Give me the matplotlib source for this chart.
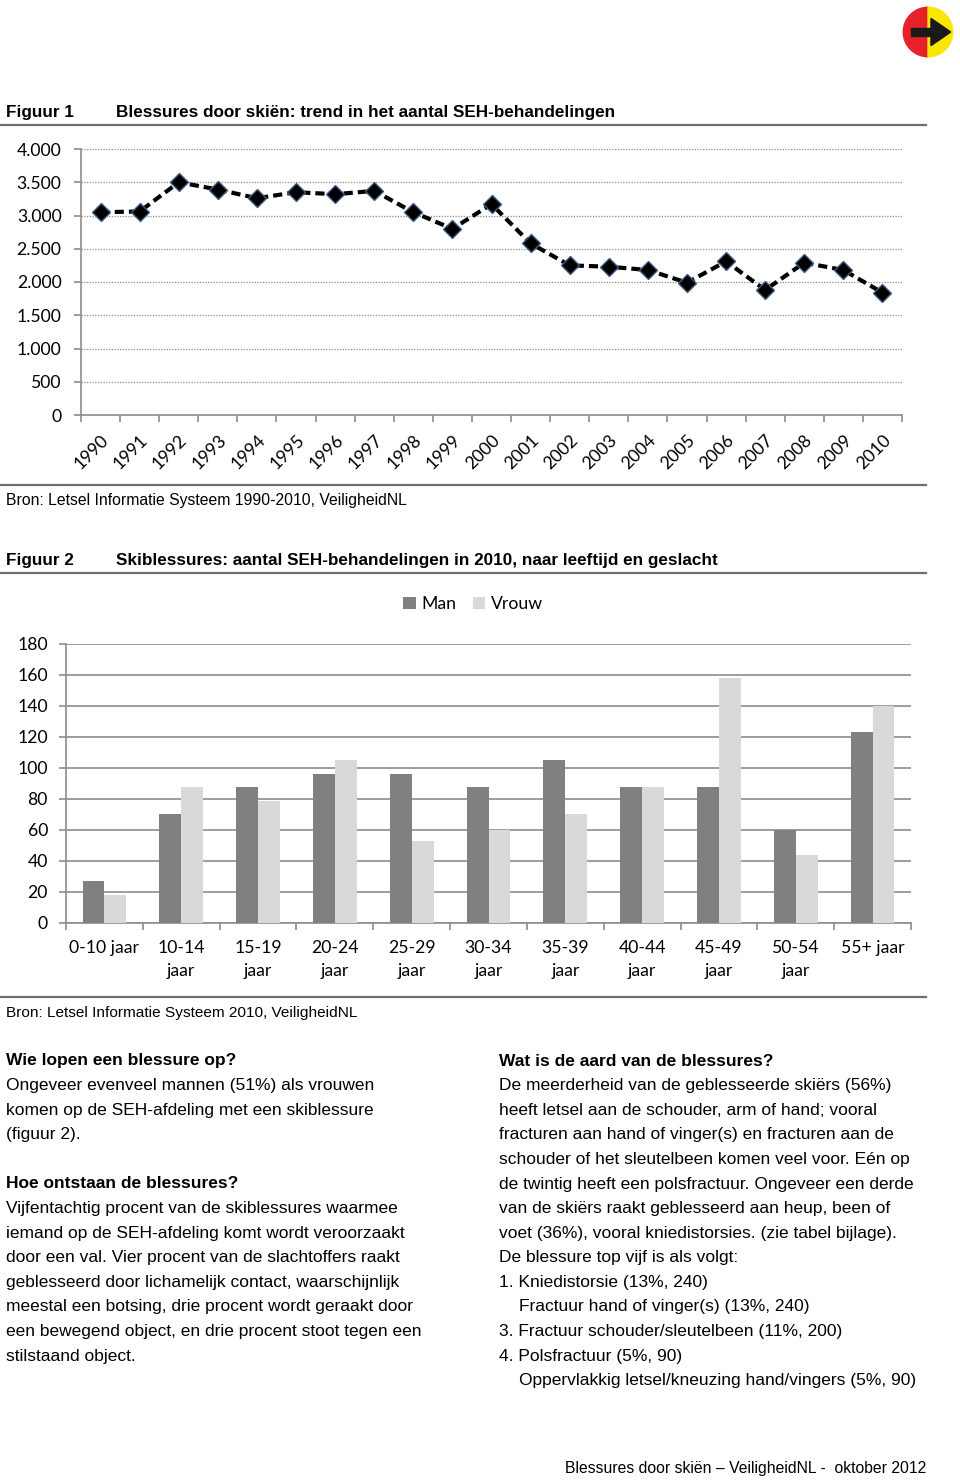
import numpy as np
import matplotlib
matplotlib.use("Agg")
import matplotlib.pyplot as plt
from matplotlib.patches import Wedge, Polygon, Rectangle

# data figuur 1: aantal SEH-behandelingen per jaar
jaren = [str(j) for j in range(1990, 2011)]
seh_totaal = [3050, 3060, 3500, 3390, 3260, 3350, 3320, 3370, 3050, 2800,
              3170, 2580, 2250, 2230, 2180, 1990, 2310, 1880, 2290, 2180, 1840]
ticks_fig1 = [0, 500, 1000, 1500, 2000, 2500, 3000, 3500, 4000]
ticklabels_fig1 = ["0", "500", "1.000", "1.500", "2.000", "2.500", "3.000", "3.500", "4.000"]

# data figuur 2: leeftijd en geslacht 2010
leeftijden = ["0-10 jaar", "10-14\njaar", "15-19\njaar", "20-24\njaar", "25-29\njaar",
              "30-34\njaar", "35-39\njaar", "40-44\njaar", "45-49\njaar", "50-54\njaar",
              "55+ jaar"]
man = [27, 70, 88, 96, 96, 88, 105, 88, 88, 60, 123]
vrouw = [18, 88, 79, 105, 53, 60, 70, 88, 158, 44, 140]

W, H = 960, 1481
fig = plt.figure(figsize=(W / 100, H / 100), dpi=100)

def px(x, y):
    return x / W, 1 - y / H

def ax_rect(x0, y0, x1, y1):
    return [x0 / W, 1 - y1 / H, (x1 - x0) / W, (y1 - y0) / H]

tekst = "Liberation Sans"
grafiek = "Lato"

# logo rechtsboven
ax_logo = fig.add_axes(ax_rect(902, 6, 954, 58))
ax_logo.add_patch(Wedge((0, 0), 1, 90, 270, color="#e62129"))
ax_logo.add_patch(Wedge((0, 0), 1, -90, 90, color="#fde500"))
ax_logo.add_patch(Rectangle((-0.68, -0.15), 0.9, 0.3, color="#1a1a1a"))
ax_logo.add_patch(Polygon([[0.12, 0.55], [0.92, 0.0], [0.12, -0.55]], color="#1a1a1a"))
ax_logo.set_xlim(-1.05, 1.05)
ax_logo.set_ylim(-1.05, 1.05)
ax_logo.set_aspect("equal")
ax_logo.axis("off")

# koppen en scheidingslijnen
def kop(y, nummer, titel):
    fig.text(*px(6, y), nummer, family=tekst, weight="bold", fontsize=12.3, va="center")
    fig.text(*px(116, y), titel, family=tekst, weight="bold", fontsize=12.3, va="center")

def lijn(y):
    fig.add_artist(plt.Line2D([0, 926 / W], [1 - y / H] * 2, color="#6e6e6e", lw=1.6))

kop(112, "Figuur 1", "Blessures door skiën: trend in het aantal SEH-behandelingen")
lijn(125)
lijn(485)
fig.text(*px(6, 501), "Bron: Letsel Informatie Systeem 1990-2010, VeiligheidNL",
         family=tekst, fontsize=11.3, va="center")

kop(560, "Figuur 2", "Skiblessures: aantal SEH-behandelingen in 2010, naar leeftijd en geslacht")
lijn(573)
lijn(997)
fig.text(*px(6, 1013), "Bron: Letsel Informatie Systeem 2010, VeiligheidNL",
         family=tekst, fontsize=11.1, va="center")

# grafiek 1
ax1 = fig.add_axes(ax_rect(81, 149, 902, 415))
x = np.arange(len(jaren))
ax1.plot(x, seh_totaal, color="black", lw=3, dashes=(2.2, 1.2), marker="D",
         markersize=9, markerfacecolor="black", markeredgecolor="#3d5a80",
         markeredgewidth=1)
ax1.set_xlim(-0.5, len(jaren) - 0.5)
ax1.set_ylim(0, 4000)
ax1.set_yticks(ticks_fig1)
ax1.set_yticklabels(ticklabels_fig1, family=grafiek, fontsize=12.7)
ax1.yaxis.grid(True, color="#8c8c8c", linestyle=(0, (1, 1.2)), lw=0.9)
ax1.set_axisbelow(True)
ax1.set_xticks(np.arange(len(jaren) + 1) - 0.5)
ax1.set_xticklabels([])
ax1.set_xticks(x, minor=True)
ax1.set_xticklabels(jaren, minor=True, rotation=45, ha="right", va="top",
                    rotation_mode="anchor", family=grafiek, fontsize=12.7)
ax1.tick_params(axis="x", which="minor", length=0, pad=12)
ax1.tick_params(axis="both", which="major", length=5, color="#8c8c8c", width=1.2)
ax1.tick_params(axis="y", pad=9)
for s in ["top", "right"]:
    ax1.spines[s].set_visible(False)
for s in ["left", "bottom"]:
    ax1.spines[s].set_color("#8c8c8c")
    ax1.spines[s].set_linewidth(1.2)

# grafiek 2
ax2 = fig.add_axes(ax_rect(66, 644, 911, 923))
g = np.arange(len(leeftijden))
bw = 0.285
ax2.bar(g - bw / 2, man, width=bw, color="#808080", label="Man", zorder=3)
ax2.bar(g + bw / 2, vrouw, width=bw, color="#d9d9d9", label="Vrouw", zorder=3)
ax2.set_xlim(-0.5, len(leeftijden) - 0.5)
ax2.set_ylim(0, 180)
ax2.set_yticks(np.arange(0, 181, 20))
ax2.set_yticklabels([str(v) for v in range(0, 181, 20)], family=grafiek, fontsize=12.7)
ax2.yaxis.grid(True, color="#8c8c8c", lw=1.2)
ax2.set_axisbelow(True)
ax2.set_xticks(np.arange(len(leeftijden) + 1) - 0.5)
ax2.set_xticklabels([])
ax2.set_xticks(g, minor=True)
ax2.set_xticklabels(leeftijden, minor=True, family=grafiek, fontsize=12.7,
                    linespacing=1.55)
ax2.tick_params(axis="x", which="minor", length=0, pad=12)
ax2.tick_params(axis="both", which="major", length=5, color="#8c8c8c", width=1.2)
ax2.tick_params(axis="y", pad=8)
for s in ["top", "right"]:
    ax2.spines[s].set_visible(False)
for s in ["left", "bottom"]:
    ax2.spines[s].set_color("#8c8c8c")
    ax2.spines[s].set_linewidth(1.2)
leg = ax2.legend(loc="center", bbox_to_anchor=(0.482, 1.143), ncol=2, frameon=False,
                 handlelength=0.7, handleheight=0.7, handletextpad=0.35,
                 columnspacing=0.9, prop={"family": grafiek, "size": 12.7})

# tekstkolommen
links = [
    ("Wie lopen een blessure op?", True),
    ("Ongeveer evenveel mannen (51%) als vrouwen", False),
    ("komen op de SEH-afdeling met een skiblessure", False),
    ("(figuur 2).", False),
    ("", False),
    ("Hoe ontstaan de blessures?", True),
    ("Vijfentachtig procent van de skiblessures waarmee", False),
    ("iemand op de SEH-afdeling komt wordt veroorzaakt", False),
    ("door een val. Vier procent van de slachtoffers raakt", False),
    ("geblesseerd door lichamelijk contact, waarschijnlijk", False),
    ("meestal een botsing, drie procent wordt geraakt door", False),
    ("een bewegend object, en drie procent stoot tegen een", False),
    ("stilstaand object.", False),
]
rechts = [
    ("Wat is de aard van de blessures?", True, 0),
    ("De meerderheid van de geblesseerde skiërs (56%)", False, 0),
    ("heeft letsel aan de schouder, arm of hand; vooral", False, 0),
    ("fracturen aan hand of vinger(s) en fracturen aan de", False, 0),
    ("schouder of het sleutelbeen komen veel voor. Eén op", False, 0),
    ("de twintig heeft een polsfractuur. Ongeveer een derde", False, 0),
    ("van de skiërs raakt geblesseerd aan heup, been of", False, 0),
    ("voet (36%), vooral kniedistorsies. (zie tabel bijlage).", False, 0),
    ("De blessure top vijf is als volgt:", False, 0),
    ("1. Kniedistorsie (13%, 240)", False, 0),
    ("Fractuur hand of vinger(s) (13%, 240)", False, 20),
    ("3. Fractuur schouder/sleutelbeen (11%, 200)", False, 0),
    ("4. Polsfractuur (5%, 90)", False, 0),
    ("Oppervlakkig letsel/kneuzing hand/vingers (5%, 90)", False, 20),
]
regel = 24.6
for i, (t, vet) in enumerate(links):
    fig.text(*px(6, 1061 + i * regel), t, family=tekst, fontsize=12.55,
             weight="bold" if vet else "normal", va="center")
for i, (t, vet, inspring) in enumerate(rechts):
    fig.text(*px(499 + inspring, 1061 + i * regel), t, family=tekst, fontsize=12.55,
             weight="bold" if vet else "normal", va="center")

fig.text(*px(565, 1469), "Blessures door skiën – VeiligheidNL -  oktober 2012",
         family=tekst, fontsize=11.35, va="center")

fig.savefig("out.png", dpi=100)
